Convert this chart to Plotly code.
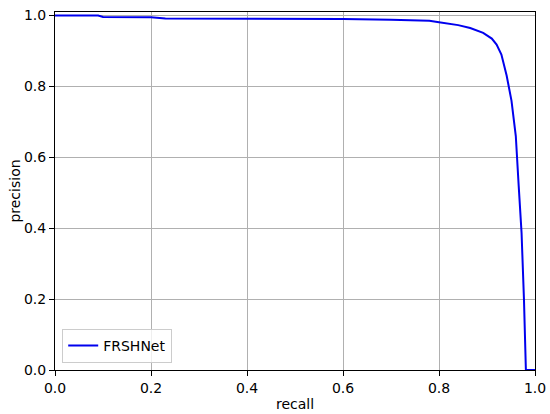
import plotly.graph_objects as go

recall = [0.0, 0.09, 0.10, 0.20, 0.23, 0.55, 0.60, 0.70, 0.78, 0.80, 0.84, 0.865,
          0.892, 0.91, 0.92, 0.93, 0.941, 0.951, 0.96, 0.966, 0.972, 0.977, 0.981, 1.0]
precision = [1.0, 1.0, 0.996, 0.995, 0.992, 0.992, 0.990, 0.988, 0.985, 0.981, 0.973, 0.965,
             0.951, 0.935, 0.918, 0.89, 0.83, 0.76, 0.66, 0.52, 0.387, 0.2, 0.0, 0.0]
series_name = "FRSHNet"
ticks = [0.0, 0.2, 0.4, 0.6, 0.8, 1.0]
tick_labels = ["0.0", "0.2", "0.4", "0.6", "0.8", "1.0"]

fig = go.Figure()
fig.add_trace(go.Scatter(x=recall, y=precision, mode="lines", name=series_name,
                         line=dict(color="#0000ee", width=2)))

font = dict(family="DejaVu Sans", size=14, color="black")
axis_common = dict(showline=True, mirror=True, linecolor="black", linewidth=1,
                   showgrid=True, gridcolor="#b0b0b0", gridwidth=1,
                   ticks="outside", ticklen=5, tickcolor="black", tickwidth=1,
                   zeroline=False, tickfont=font, tickvals=ticks, ticktext=tick_labels,
                   automargin=False)
fig.update_xaxes(range=[0, 1], title=dict(text="recall", font=font, standoff=4), **axis_common)
fig.update_yaxes(range=[0, 1.01], title=dict(text="precision", font=font, standoff=0), **axis_common)

fig.update_layout(
    width=550, height=414,
    margin=dict(l=55, r=15, t=12, b=44),
    paper_bgcolor="white", plot_bgcolor="white",
    font=font,
    showlegend=True,
    legend=dict(x=0.015, y=0.02, xanchor="left", yanchor="bottom",
                bgcolor="rgba(255,255,255,0.8)", bordercolor="#cccccc", borderwidth=1,
                font=font, itemwidth=30),
)
fig.write_html("out.html", config={"displayModeBar": False},
               post_script="document.body.style.margin='0';document.body.style.overflow='hidden';")
